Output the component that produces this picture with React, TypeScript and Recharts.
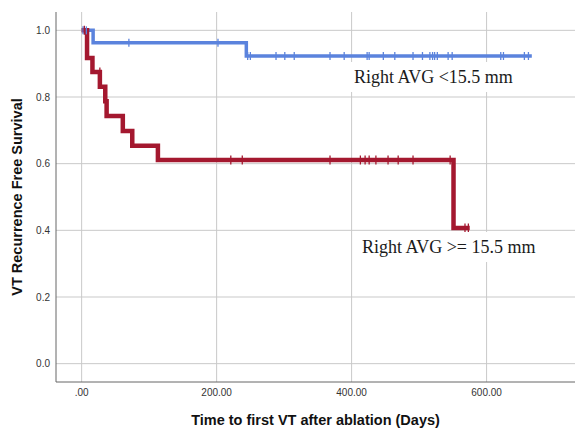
import React from 'react';
import { ComposedChart, Line, Scatter, XAxis, YAxis, ReferenceLine } from 'recharts';

// step points (time in days, survival)
const blueTimes = [0, 17, 244, 667];
const blueSurv = [1.0, 0.963, 0.923, 0.923];
const redTimes = [0, 8, 16, 27, 35, 37, 61, 75, 113, 551, 575];
const redSurv = [1.0, 0.917, 0.875, 0.831, 0.787, 0.743, 0.698, 0.654, 0.611, 0.407, 0.407];

// censored observations
const blueCensorTimes = [2, 7, 70, 202, 246, 250, 288, 301, 315, 368, 389, 423, 426, 447, 464, 491, 505, 516, 520, 523, 527, 543, 549, 621, 625, 656, 662];
const blueCensorSurv = [1.0, 1.0, 0.963, 0.963, 0.923, 0.923, 0.923, 0.923, 0.923, 0.923, 0.923, 0.923, 0.923, 0.923, 0.923, 0.923, 0.923, 0.923, 0.923, 0.923, 0.923, 0.923, 0.923, 0.923, 0.923, 0.923, 0.923];
const redCensorTimes = [4, 27, 221, 238, 368, 413, 420, 426, 436, 454, 469, 491, 546, 568, 573];
const redCensorSurv = [1.0, 0.875, 0.611, 0.611, 0.611, 0.611, 0.611, 0.611, 0.611, 0.611, 0.611, 0.611, 0.611, 0.407, 0.407];

const xTicks = [0, 200, 400, 600];
const yTicks = [0, 0.2, 0.4, 0.6, 0.8, 1.0];

const BLUE = '#5b83dd';
const RED = '#a4182f';
const GRID = '#c9c9c9';
const SANS = 'Arial, "Liberation Sans", sans-serif';

const toRows = (ts: number[], ss: number[]) => ts.map((t, i) => ({ t, s: ss[i] }));
const blueData = toRows(blueTimes, blueSurv);
const redData = toRows(redTimes, redSurv);
const blueCensor = toRows(blueCensorTimes, blueCensorSurv);
const redCensor = toRows(redCensorTimes, redCensorSurv);

const tick = (color: string, half: number) => (props: any) => (
  <line x1={props.cx} x2={props.cx} y1={props.cy - half} y2={props.cy + half} stroke={color} strokeWidth={1.3} />
);

const labelStyle: React.CSSProperties = {
  position: 'absolute',
  background: '#fff',
  fontFamily: '"Liberation Serif", "Times New Roman", serif',
  fontSize: 18,
  color: '#1b1b1b',
  whiteSpace: 'nowrap',
  lineHeight: '30px',
  paddingLeft: 4,
  paddingRight: 8,
};

export default function App() {
  return (
    <div style={{ position: 'absolute', left: 0, top: 0, width: 575, height: 428, background: '#fff' }}>
      <ComposedChart width={575} height={428} margin={{ top: 12, right: 0, bottom: 0, left: 0 }}>
        <XAxis
          type="number"
          dataKey="t"
          domain={[-38, 731]}
          ticks={xTicks}
          allowDataOverflow
          tickFormatter={(v: number) => (v === 0 ? '.00' : v.toFixed(2))}
          tick={{ fontSize: 10, fill: '#333', fontFamily: SANS }}
          tickSize={0}
          tickMargin={7}
          height={46}
          axisLine={{ stroke: '#666' }}
          label={{
            value: 'Time to first VT after ablation (Days)',
            position: 'insideBottom',
            offset: 3,
            style: { fontSize: 14.5, fontWeight: 'bold', fill: '#111', fontFamily: SANS },
          }}
        />
        <YAxis
          type="number"
          dataKey="s"
          domain={[-0.055, 1.055]}
          ticks={yTicks}
          allowDataOverflow
          tickFormatter={(v: number) => v.toFixed(1)}
          tick={{ fontSize: 10, fill: '#333', fontFamily: SANS }}
          tickSize={0}
          tickMargin={6}
          width={56}
          axisLine={{ stroke: '#666' }}
          label={{
            value: 'VT Recurrence Free Survival',
            angle: -90,
            position: 'insideLeft',
            offset: 17,
            style: { textAnchor: 'middle', fontSize: 14.5, fontWeight: 'bold', fill: '#111', fontFamily: SANS },
          }}
        />
        {xTicks.map((v) => (
          <ReferenceLine key={'x' + v} x={v} stroke={GRID} strokeWidth={1} />
        ))}
        {yTicks.map((v) => (
          <ReferenceLine key={'y' + v} y={v} stroke={GRID} strokeWidth={1} />
        ))}
        <Line data={blueData} dataKey="s" type="stepAfter" stroke={BLUE} strokeWidth={3.5} dot={false} strokeLinejoin="miter" isAnimationActive={false} />
        <Line data={redData} dataKey="s" type="stepAfter" stroke={RED} strokeWidth={4.5} dot={false} strokeLinejoin="miter" isAnimationActive={false} />
        <Scatter data={blueCensor} dataKey="s" shape={tick(BLUE, 4)} isAnimationActive={false} />
        <Scatter data={redCensor} dataKey="s" shape={tick(RED, 4.5)} isAnimationActive={false} />
      </ComposedChart>
      <div style={{ ...labelStyle, left: 350, top: 62 }}>Right AVG &lt;15.5 mm</div>
      <div style={{ ...labelStyle, left: 358, top: 232 }}>Right AVG &gt;= 15.5 mm</div>
    </div>
  );
}
